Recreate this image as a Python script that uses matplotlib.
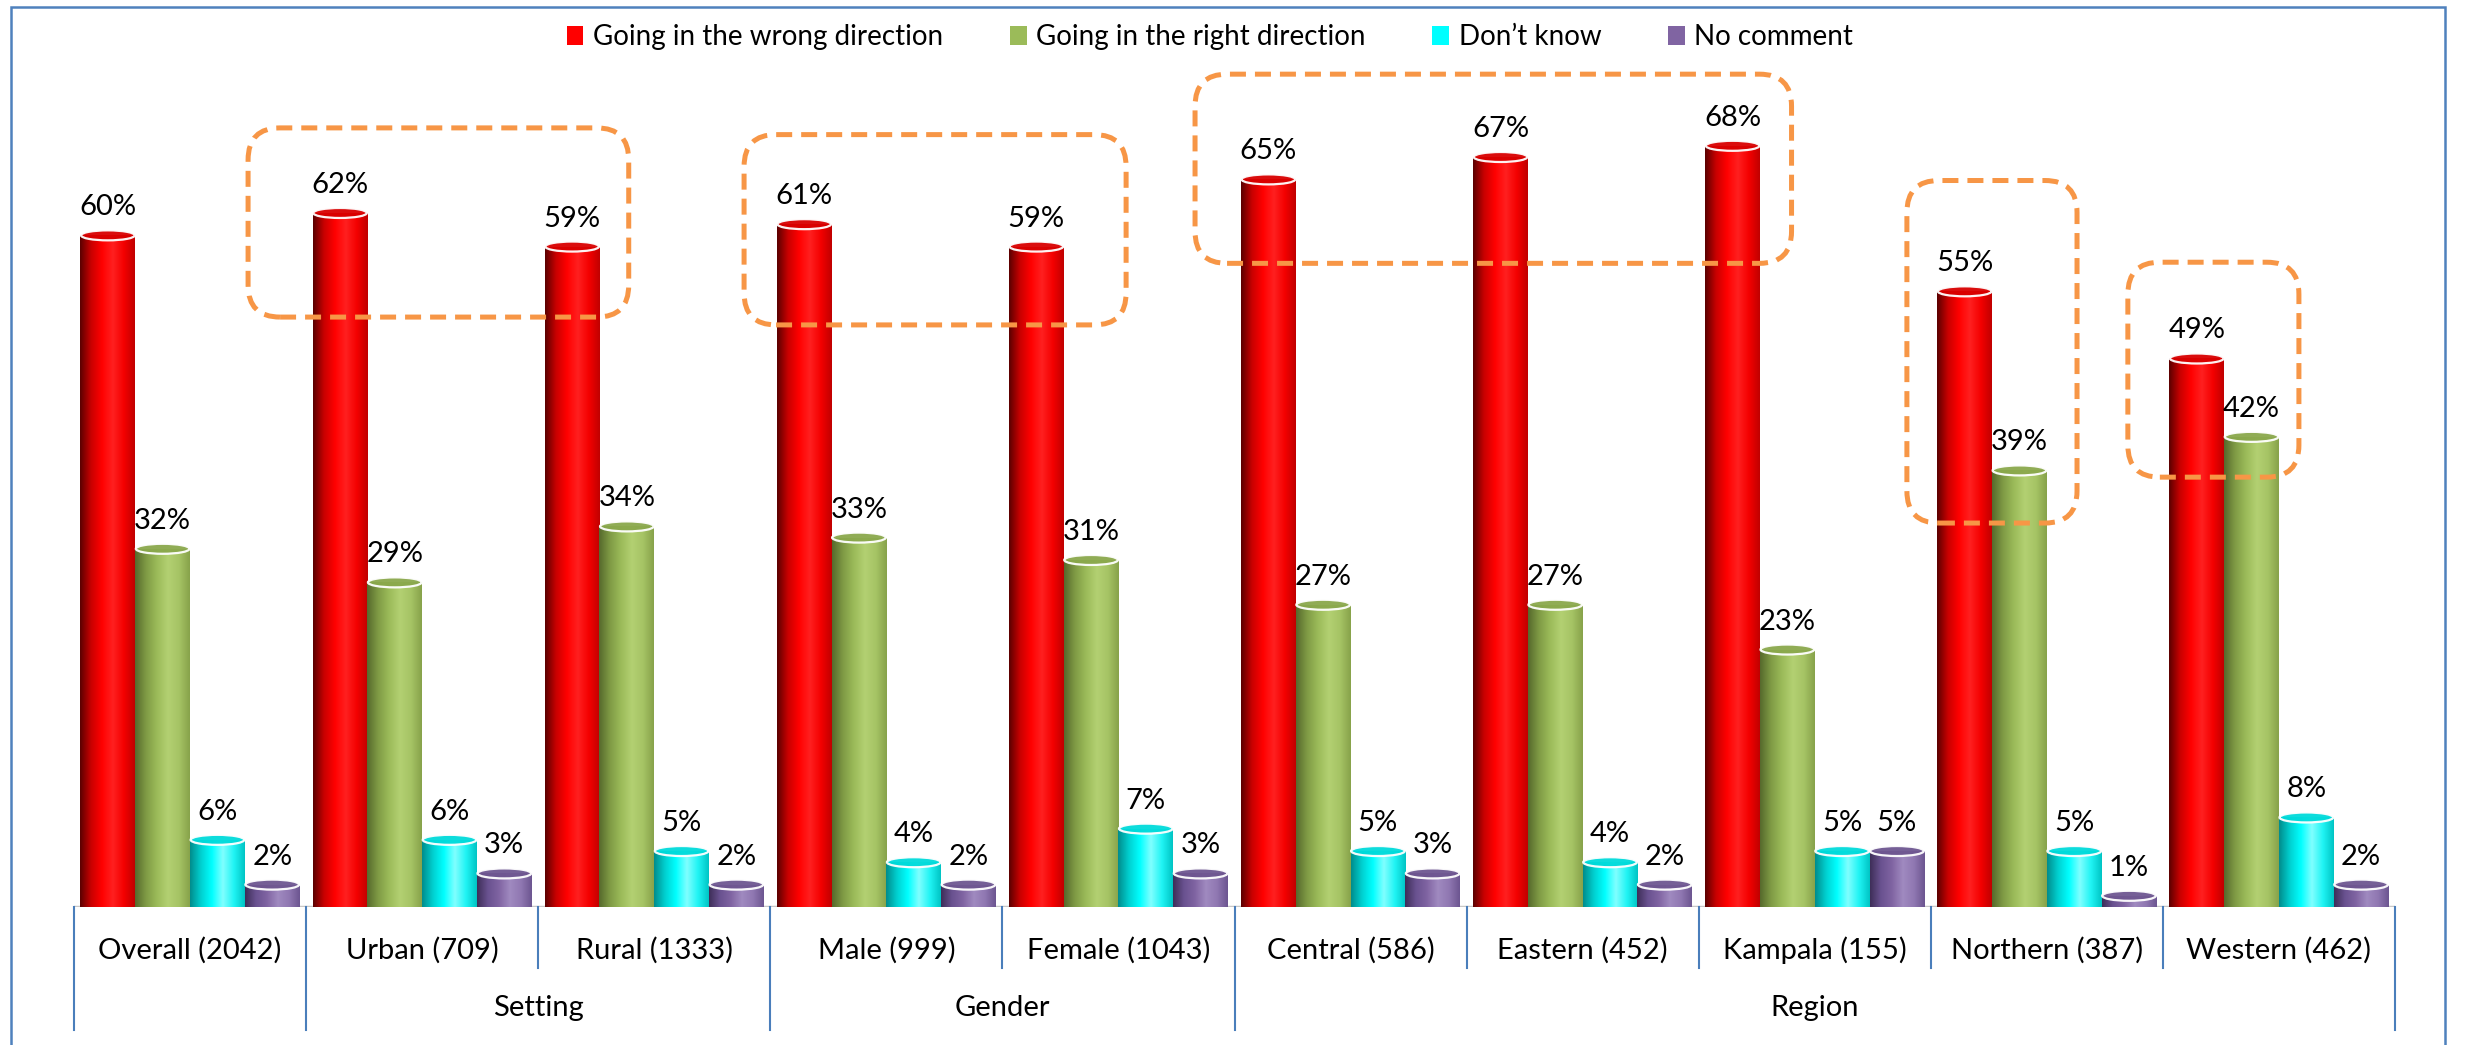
import numpy as np
import matplotlib
matplotlib.use('Agg')
import matplotlib.pyplot as plt
from matplotlib.patches import Patch, Ellipse, FancyBboxPatch, Rectangle
from matplotlib.colors import LinearSegmentedColormap
from matplotlib.transforms import blended_transform_factory

plt.rcParams['font.family'] = ['Lato', 'DejaVu Sans']

# ---------------- data ----------------
categories = ['Overall (2042)', 'Urban (709)', 'Rural (1333)', 'Male (999)',
              'Female (1043)', 'Central (586)', 'Eastern (452)', 'Kampala (155)',
              'Northern (387)', 'Western (462)']
group_names = ['', 'Setting', 'Gender', 'Region']
group_starts = [0, 1, 3, 5]
group_ends = [1, 3, 5, 10]
series_names = ['Going in the wrong direction', 'Going in the right direction',
                'Don\u2019t know', 'No comment']
wrong = [60, 62, 59, 61, 59, 65, 67, 68, 55, 49]
right = [32, 29, 34, 33, 31, 27, 27, 23, 39, 42]
dont_know = [6, 6, 5, 4, 7, 5, 4, 5, 5, 8]
no_comment = [2, 3, 2, 2, 3, 3, 2, 5, 1, 2]

# ---------------- style ----------------
base_colors = ['#FF0000', '#9BBB59', '#00FFFF', '#8064A2']
grad_stops = [
    ['#5A0000', '#C80000', '#FF0000', '#FF2020', '#F40000', '#C00000'],
    ['#56692C', '#7F9A45', '#9BBB59', '#B3D072', '#A6C465', '#87A24A'],
    ['#008C8C', '#00D0D0', '#00FFFF', '#80FFFF', '#20F4F4', '#00C4C4'],
    ['#3E2E58', '#6A5290', '#8064A2', '#A08AC0', '#9078B2', '#6C5590'],
]
cap_colors = ['#D80000', '#8AA84C', '#00DADA', '#6E5690']
box_color = '#F79646'
line_blue = '#4A7EBB'

W, H = 2465, 1045
fig = plt.figure(figsize=(W / 100, H / 100), dpi=100)
fig.patch.set_facecolor('white')

ax_left_px, ax_right_px = 74, 2395
ax_base_px, ax_top_px = 907, 7
ymax = 80.4
ax = fig.add_axes([ax_left_px / W, (H - ax_base_px) / H,
                   (ax_right_px - ax_left_px) / W, (ax_base_px - ax_top_px) / H])
ax.set_axis_off()

n = len(categories)
x = np.arange(n)
bw = 0.236
offsets = [-1.5 * bw, -0.5 * bw, 0.5 * bw, 1.5 * bw]
series = [wrong, right, dont_know, no_comment]

xunit_px = (ax_right_px - ax_left_px) / n
yunit_px = (ax_base_px - ax_top_px) / ymax
cap_h = 10 / yunit_px

grad = np.linspace(0, 1, 256).reshape(1, -1)
for s, vals in enumerate(series):
    bars = ax.bar(x + offsets[s], vals, width=bw, color=base_colors[s],
                  edgecolor='none', zorder=2)
    cmap = LinearSegmentedColormap.from_list(f'c{s}', grad_stops[s])
    for b, v in zip(bars, vals):
        x0 = b.get_x()
        x1 = x0 + b.get_width()
        im = ax.imshow(grad, extent=[x0, x1, 0, v], cmap=cmap, aspect='auto',
                       interpolation='bilinear', zorder=3)
        im.set_clip_path(b)
        ax.add_patch(Ellipse((x0 + bw / 2, v), bw * 0.98, cap_h,
                             facecolor=cap_colors[s], edgecolor='white',
                             linewidth=1.6, alpha=0.95, zorder=4))
        ax.annotate(f'{v}%', (x0 + bw / 2, v), xytext=(0, 28),
                    textcoords='offset pixels', ha='center', va='center',
                    fontsize=21, color='black', zorder=6)

ax.set_xlim(-0.5, n - 0.5)
ax.set_ylim(0, ymax)

# floor line
ax.axhline(0, color='#C8C8C8', lw=2.5, zorder=1)

# category axis lines and labels
trans = blended_transform_factory(ax.transData, ax.transAxes)
short_y = -(968 - ax_base_px) / (ax_base_px - ax_top_px)
long_y = -(1030 - ax_base_px) / (ax_base_px - ax_top_px)
cat_label_y = -(950 - ax_base_px) / (ax_base_px - ax_top_px)
grp_label_y = -(1008 - ax_base_px) / (ax_base_px - ax_top_px)
boundaries = set(group_starts) | set(group_ends)
for k in range(n + 1):
    yb = long_y if k in boundaries else short_y
    ax.plot([k - 0.5, k - 0.5], [0, yb], transform=trans, color=line_blue,
            lw=1.5, clip_on=False, zorder=1)
for i, c in enumerate(categories):
    ax.text(i, cat_label_y, c, transform=trans, ha='center', va='center',
            fontsize=21, color='black')
for g, s0, s1 in zip(group_names, group_starts, group_ends):
    if g:
        ax.text((s0 + s1) / 2 - 0.5, grp_label_y, g, transform=trans,
                ha='center', va='center', fontsize=21, color='black')

# dashed highlight boxes (annotation geometry in data units)
boxes = [
    (0.25, 1.89, 52.7, 69.6),
    (2.387, 4.033, 52.0, 69.0),
    (4.33, 6.90, 57.5, 74.4),
    (7.397, 8.13, 34.3, 64.9),
    (8.349, 9.086, 38.4, 57.6),
]
xper = 1 / xunit_px
yper = 1 / yunit_px
asp = yper / xper
for bx0, bx1, by0, by1 in boxes:
    p = FancyBboxPatch((bx0, by0), bx1 - bx0, by1 - by0,
                       boxstyle=f'round,pad=0,rounding_size={32 * xper}',
                       mutation_aspect=asp, facecolor='none',
                       edgecolor=box_color, linewidth=3.6,
                       linestyle=(0, (3.2, 1.8)), zorder=7, clip_on=False)
    ax.add_patch(p)

# legend
handles = [Patch(facecolor=c, edgecolor='none') for c in base_colors]
fig.legend(handles, series_names, loc='center', bbox_to_anchor=(1210 / W, 1 - 37 / H),
           ncol=4, frameon=False, fontsize=20, handlelength=0.6, handleheight=0.7,
           handletextpad=0.35, columnspacing=2.4)

# outer border
fig.add_artist(Rectangle((11 / W, -0.05), (2445 - 11) / W, (H - 7) / H + 0.05,
                         transform=fig.transFigure, facecolor='none',
                         edgecolor='#4F81BD', linewidth=1.8, zorder=0))

fig.savefig('out.png', dpi=100, facecolor='white')
